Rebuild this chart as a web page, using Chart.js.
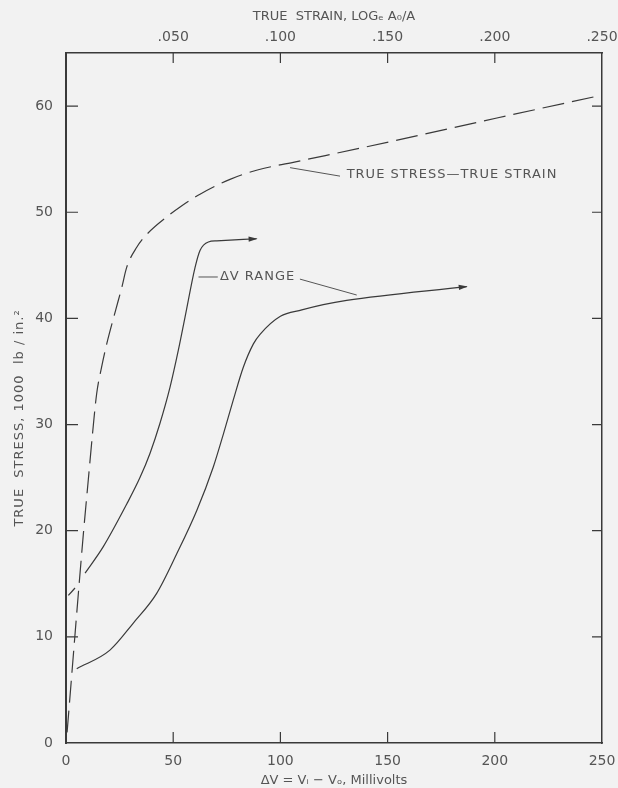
<!DOCTYPE html>
<html>
<head>
<meta charset="utf-8">
<script src="https://cdn.jsdelivr.net/npm/chart.js@4.4.0/dist/chart.umd.min.js"></script>
<style>
  html, body { margin: 0; padding: 0; background: #f2f2f2; }
</style>
</head>
<body>
<canvas id="chart" width="618" height="788"></canvas>
<script>
// tick values
const voltTicks = [0, 50, 100, 150, 200, 250];
const strainTicks = [0.05, 0.10, 0.15, 0.20, 0.25];
const strainLabels = ['.050', '.100', '.150', '.200', '.250'];
const stressTicks = [0, 10, 20, 30, 40, 50, 60];

// true stress - true strain (dashed), x in mV-equivalent scale, y in 1000 lb/in2
const strainCurveX = [0.5, 8.1, 10.4, 12.4, 14.3, 16.6, 19.0, 23.2, 26.0, 28.3, 33.0, 37.6, 48.5, 53.2, 62.5, 76.5, 89.7, 106, 152.5, 201.5, 247];
const strainCurveY = [1.0, 19.7, 24.8, 29.2, 32.9, 35.4, 37.6, 40.8, 42.9, 44.8, 46.7, 47.9, 49.8, 50.5, 51.7, 53.1, 54.0, 54.7, 56.7, 58.9, 60.9];

// delta V range, upper bound
const upperRangeX = [8.9, 17.4, 28.3, 34.5, 39.2, 43.8, 48.5, 52.4, 55.5, 60.2, 62.5, 66.4, 70.3, 88.9];
const upperRangeY = [16.0, 18.5, 22.5, 25.0, 27.3, 30.1, 33.5, 37.0, 40.1, 44.8, 46.4, 47.2, 47.3, 47.5];

// short dash near the axis below the upper curve
const upperStubX = [1.1, 4.2];
const upperStubY = [13.9, 14.6];

// delta V range, lower bound
const lowerRangeX = [5.0, 20.5, 31.4, 42.3, 51.6, 61.0, 68.7, 73.4, 78.0, 82.7, 87.4, 90.5, 100, 110, 120, 130.9, 186.9];
const lowerRangeY = [7.0, 8.75, 11.3, 14.1, 17.8, 21.9, 26.0, 29.1, 32.3, 35.4, 37.6, 38.5, 40.2, 40.8, 41.3, 41.7, 43.0];

const ink = '#3a3a3a';
const textColor = '#555';
const family = "'DejaVu Sans', sans-serif";

const toPoints = (xs, ys) => xs.map((x, i) => ({ x: x, y: ys[i] }));

function curve(xs, ys, dash) {
  return {
    data: toPoints(xs, ys),
    borderColor: ink,
    borderWidth: 1.2,
    borderDash: dash || [],
    pointRadius: 0,
    fill: false,
    cubicInterpolationMode: 'monotone',
    xAxisID: 'x',
    yAxisID: 'y'
  };
}

// annotation text and leader lines (in data units)
const notes = [
  { text: 'TRUE STRESS\u2014TRUE STRAIN', x: 130.9, y: 53.5 },
  { text: '\u0394V RANGE', x: 71.8, y: 43.9 }
];
const leaders = [
  [[104.5, 54.2], [127.8, 53.4]],
  [[61.8, 43.9], [70.8, 43.9]],
  [[109.1, 43.7], [135.6, 42.2]]
];

const decor = {
  id: 'decor',
  afterDraw(chart) {
    const { ctx, chartArea: a, scales } = chart;
    const sx = v => scales.x.getPixelForValue(v);
    const sy = v => scales.y.getPixelForValue(v);
    ctx.save();
    ctx.strokeStyle = ink;
    ctx.lineWidth = 1.2;

    // inward tick marks
    ctx.beginPath();
    voltTicks.forEach(v => {
      if (v <= 0 || v >= 250) return;
      ctx.moveTo(sx(v), a.bottom);
      ctx.lineTo(sx(v), a.bottom - 11);
    });
    strainTicks.forEach(v => {
      if (v >= 0.25) return;
      const px = scales.x2.getPixelForValue(v);
      ctx.moveTo(px, a.top);
      ctx.lineTo(px, a.top + 10);
    });
    stressTicks.forEach(v => {
      if (v <= 0) return;
      ctx.moveTo(a.left, sy(v));
      ctx.lineTo(a.left + 12, sy(v));
      ctx.moveTo(a.right, sy(v));
      ctx.lineTo(a.right - 10, sy(v));
    });
    ctx.stroke();

    // arrow heads on the two delta V curves
    [1, 2].forEach(i => {
      const pts = chart.getDatasetMeta(i).data;
      const p1 = pts[pts.length - 2], p2 = pts[pts.length - 1];
      const ang = Math.atan2(p2.y - p1.y, p2.x - p1.x);
      ctx.save();
      ctx.translate(p2.x, p2.y);
      ctx.rotate(ang);
      ctx.beginPath();
      ctx.moveTo(1, 0);
      ctx.lineTo(-8, -2.6);
      ctx.lineTo(-8, 2.6);
      ctx.closePath();
      ctx.fillStyle = ink;
      ctx.fill();
      ctx.restore();
    });

    // leader lines
    ctx.lineWidth = 1;
    ctx.strokeStyle = '#555';
    ctx.beginPath();
    leaders.forEach(l => {
      ctx.moveTo(sx(l[0][0]), sy(l[0][1]));
      ctx.lineTo(sx(l[1][0]), sy(l[1][1]));
    });
    ctx.stroke();

    // labels
    ctx.fillStyle = textColor;
    ctx.font = '13px ' + family;
    ctx.textBaseline = 'middle';
    ctx.textAlign = 'left';
    ctx.letterSpacing = '1px';
    notes.forEach(n => ctx.fillText(n.text, sx(n.x), sy(n.y)));

    // y axis title
    ctx.save();
    ctx.translate(20, 418);
    ctx.rotate(-Math.PI / 2);
    ctx.textAlign = 'center';
    ctx.font = '13px ' + family;
    ctx.fillText('TRUE  STRESS, 1000  lb / in.\u00B2', 0, 0);
    ctx.restore();

    ctx.restore();
  }
};

const tickFont = { family: family, size: 14 };
const titleFont = { family: family, size: 13 };

// keep the plot box fixed: no extra side padding for end labels
const noSidePad = h => s => { s.height = h; s.paddingLeft = 0; s.paddingRight = 0; };

new Chart(document.getElementById('chart').getContext('2d'), {
  type: 'line',
  data: {
    datasets: [
      curve(strainCurveX, strainCurveY, [22, 8]),
      curve(upperRangeX, upperRangeY),
      curve(lowerRangeX, lowerRangeY),
      curve(upperStubX, upperStubY)
    ]
  },
  options: {
    responsive: false,
    animation: false,
    layout: { padding: 0 },
    plugins: { legend: { display: false }, tooltip: { enabled: false } },
    scales: {
      x: {
        type: 'linear', position: 'bottom', min: 0, max: 250,
        afterBuildTicks: s => { s.ticks = voltTicks.map(v => ({ value: v })); },
        afterFit: noSidePad(45),
        grid: { display: false, drawTicks: false },
        border: { display: true, color: ink, width: 1.5 },
        ticks: { padding: 10, color: textColor, font: tickFont, maxRotation: 0, autoSkip: false },
        title: { display: true, text: '\u0394V = V\u1D62 \u2212 V\u2092, Millivolts', color: textColor, font: titleFont, padding: { top: 0, bottom: 0 } }
      },
      x2: {
        type: 'linear', position: 'top', min: 0, max: 0.25,
        afterBuildTicks: s => { s.ticks = strainTicks.map(v => ({ value: v })); },
        afterFit: noSidePad(53),
        grid: { display: false, drawTicks: false },
        border: { display: true, color: ink, width: 1.5 },
        ticks: {
          padding: 7, color: textColor, font: tickFont, maxRotation: 0, autoSkip: false,
          callback: v => strainLabels[strainTicks.findIndex(t => Math.abs(t - v) < 1e-6)]
        },
        title: { display: true, text: 'TRUE  STRAIN, LOG\u2091 A\u2080/A', color: textColor, font: titleFont, padding: { top: 9, bottom: 0 } }
      },
      y: {
        type: 'linear', position: 'left', min: 0, max: 65,
        afterBuildTicks: s => { s.ticks = stressTicks.map(v => ({ value: v })); },
        afterFit: s => { s.width = 66; },
        grid: { display: false, drawTicks: false },
        border: { display: true, color: ink, width: 2 },
        ticks: { padding: 13, color: textColor, font: tickFont }
      },
      y2: {
        type: 'linear', position: 'right', min: 0, max: 65,
        afterFit: s => { s.width = 16; },
        grid: { display: false, drawTicks: false },
        border: { display: true, color: ink, width: 1.5 },
        ticks: { display: false }
      }
    }
  },
  plugins: [decor]
});
</script>
</body>
</html>
